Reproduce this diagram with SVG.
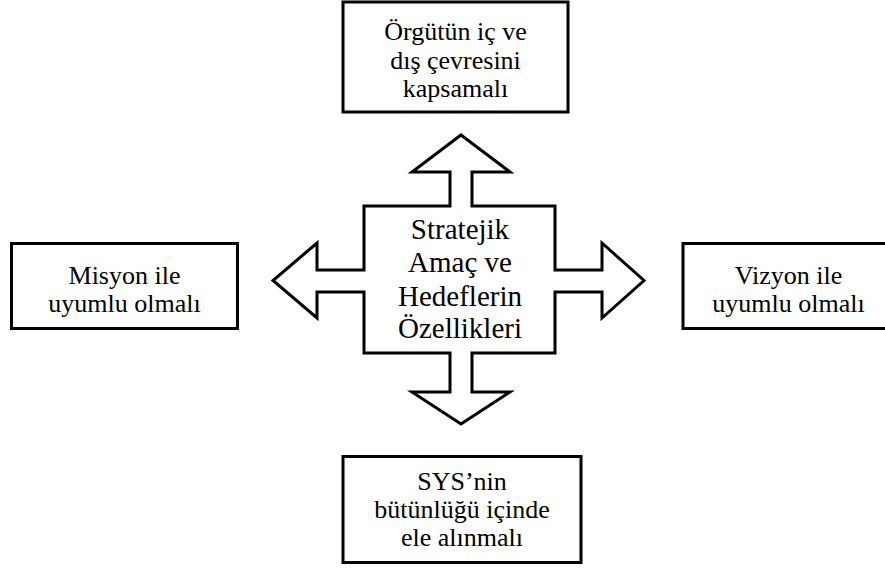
<svg xmlns="http://www.w3.org/2000/svg" width="885" height="569" viewBox="0 0 885 569">
  <style>
    .box { fill: #ffffff; stroke: #000000; stroke-width: 3; }
    .cross { fill: #ffffff; stroke: #000000; stroke-width: 3; stroke-linejoin: miter; }
    .lbl { font-family: "Liberation Serif", "Times New Roman", serif; font-size: 26px; fill: #000000; text-anchor: middle; }
    .core { font-family: "Liberation Serif", "Times New Roman", serif; font-size: 29px; fill: #000000; text-anchor: middle; }
  </style>
  <rect width="885" height="569" fill="#ffffff"/>

  <!-- four-way arrow around the central topic -->
  <g id="connectors">
    <path class="cross" d="M461,135 L510,172 L472,172 L472,206 L555,206 L555,270 L602,270 L602,243 L644,280.5 L602,318 L602,292 L555,292 L555,353 L472,353 L472,392 L510,392 L461,424 L412,392 L450,392 L450,353 L364,353 L364,292 L317,292 L317,318 L273,280.5 L317,243 L317,270 L364,270 L364,206 L450,206 L450,172 L412,172 Z"/>
  </g>

  <g id="center">
    <text class="core" x="460" y="239">Stratejik</text>
    <text class="core" x="460" y="272">Amaç ve</text>
    <text class="core" x="460" y="306">Hedeflerin</text>
    <text class="core" x="460" y="338">Özellikleri</text>
  </g>

  <g id="top">
    <rect class="box" x="343" y="2" width="225" height="110"/>
    <text class="lbl" x="455.5" y="40">Örgütün iç ve</text>
    <text class="lbl" x="455.5" y="68.5">dış çevresini</text>
    <text class="lbl" x="455.5" y="97">kapsamalı</text>
  </g>

  <g id="left">
    <rect class="box" x="11.5" y="243.5" width="226" height="85"/>
    <text class="lbl" x="124.5" y="284">Misyon ile</text>
    <text class="lbl" x="124.5" y="312">uyumlu olmalı</text>
  </g>

  <g id="right">
    <rect class="box" x="683" y="243.5" width="212" height="85"/>
    <text class="lbl" x="788.5" y="284">Vizyon ile</text>
    <text class="lbl" x="788.5" y="312">uyumlu olmalı</text>
  </g>

  <g id="bottom">
    <rect class="box" x="343" y="456.5" width="238" height="106"/>
    <text class="lbl" x="462" y="490">SYS’nin</text>
    <text class="lbl" x="462" y="518">bütünlüğü içinde</text>
    <text class="lbl" x="462" y="546">ele alınmalı</text>
  </g>
</svg>
